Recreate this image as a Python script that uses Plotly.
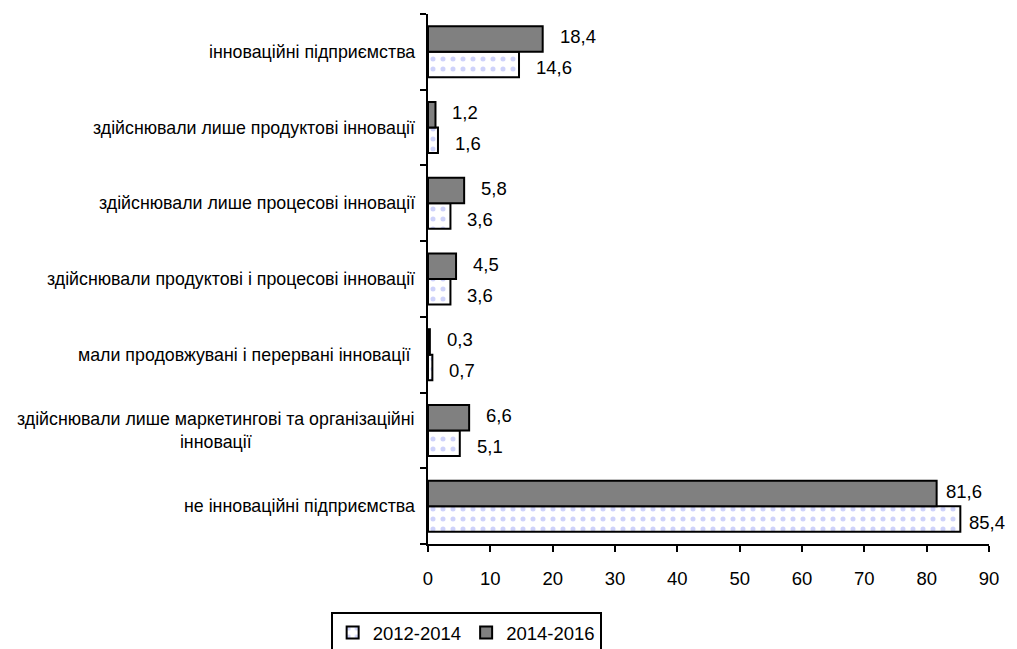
import plotly.graph_objects as go

categories = [
    "інноваційні підприємства",
    "здійснювали лише продуктові інновації",
    "здійснювали лише процесові інновації",
    "здійснювали продуктові і процесові інновації",
    "мали продовжувані і перервані інновації ",
    "здійснювали лише маркетингові та організаційні<br>інновації",
    "не інноваційні підприємства",
]
series_names = ["2012-2014", "2014-2016"]
values_2012_2014 = [14.6, 1.6, 3.6, 3.6, 0.7, 5.1, 85.4]
values_2014_2016 = [18.4, 1.2, 5.8, 4.5, 0.3, 6.6, 81.6]
x_ticks = [0, 10, 20, 30, 40, 50, 60, 70, 80, 90]

FONT = "Liberation Sans, Arial, sans-serif"


def fmt(v):
    return f"{v:.1f}".replace(".", ",")


fig = go.Figure()
fig.add_trace(go.Bar(
    name=series_names[0], y=categories, x=values_2012_2014, orientation="h",
    marker=dict(color="white", line=dict(color="black", width=2),
                pattern=dict(shape=".", fgcolor="#9ea6f6", bgcolor="white",
                             size=10, solidity=0.2)),
))
fig.add_trace(go.Bar(
    name=series_names[1], y=categories, x=values_2014_2016, orientation="h",
    marker=dict(color="#808080", line=dict(color="black", width=2)),
))

annotations = []
# value labels to the right of each bar: older period below, newer above
for vals, yshift in ((values_2012_2014, -16), (values_2014_2016, 15)):
    for cat, v in zip(categories, vals):
        annotations.append(dict(
            x=v, y=cat, xref="x", yref="y", text=fmt(v), showarrow=False,
            xanchor="left", yanchor="middle", yshift=yshift,
            xshift=7 if v > 50 else 15,
            font=dict(family=FONT, size=18.5, color="black"),
        ))
# category labels, centred within multi-line blocks
for cat in categories:
    annotations.append(dict(
        x=0, y=cat, xref="paper", yref="y", text=cat, showarrow=False,
        xanchor="right", yanchor="middle", align="center", xshift=-11,
        font=dict(family=FONT, size=17.8, color="black"),
    ))

fig.update_layout(
    width=1017, height=649,
    margin=dict(l=428, r=28, t=14, b=105, autoexpand=False),
    paper_bgcolor="white", plot_bgcolor="white",
    barmode="group", bargap=0.326, bargroupgap=0,
    showlegend=True,
    legend=dict(orientation="h", x=0.068, xanchor="center",
                yref="container", y=0.057, yanchor="top",
                bordercolor="black", borderwidth=2, bgcolor="white",
                font=dict(family=FONT, size=18.5, color="black"),
                itemwidth=30, tracegroupgap=0),
    annotations=annotations,
    font=dict(family=FONT, color="black"),
)
fig.update_xaxes(range=[0, 90], tickvals=x_ticks, showgrid=False, zeroline=False,
                 showline=True, linecolor="black", linewidth=2, automargin=False,
                 ticks="outside", ticklen=6, tickwidth=2, tickcolor="black",
                 ticklabelstandoff=11,
                 tickfont=dict(family=FONT, size=18.5, color="black"))
fig.update_yaxes(categoryorder="array", categoryarray=categories[::-1],
                 showticklabels=False, showgrid=False, zeroline=False,
                 showline=True, linecolor="black", linewidth=2, automargin=False,
                 ticks="outside", ticklen=6, tickwidth=2, tickcolor="black",
                 tickson="boundaries")

fig.write_html("out.html")
